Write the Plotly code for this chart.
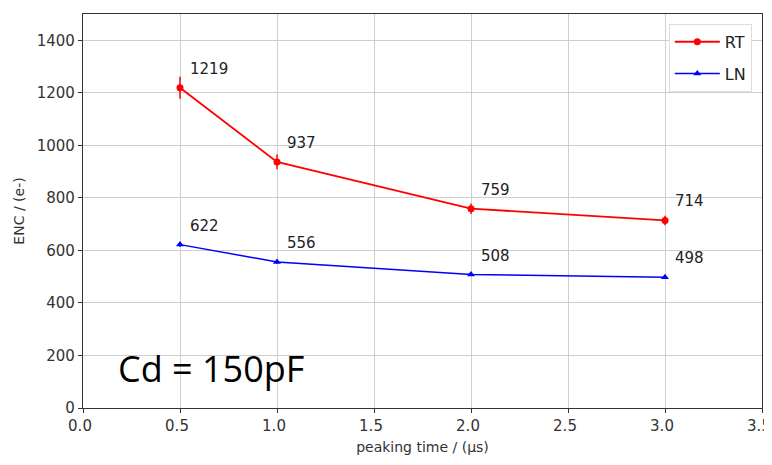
import plotly.graph_objects as go

peaking_time = [0.5, 1.0, 2.0, 3.0]
enc_rt = [1219, 937, 759, 714]
enc_rt_err = [42, 28, 20, 18]
enc_ln = [622, 556, 508, 498]
enc_ln_err = [8, 6, 5, 5]
x_ticks = [0.0, 0.5, 1.0, 1.5, 2.0, 2.5, 3.0, 3.5]
y_ticks = [0, 200, 400, 600, 800, 1000, 1200, 1400]

font_fam = "DejaVu Sans"

fig = go.Figure()
fig.add_trace(go.Scatter(
    x=peaking_time, y=enc_rt, mode="lines+markers", name="RT", legendgroup="rt",
    line=dict(color="red", width=1.8),
    marker=dict(color="red", size=7, symbol="circle"),
    error_y=dict(type="data", array=enc_rt_err, color="red", thickness=1.5, width=0),
))
fig.add_trace(go.Scatter(
    x=peaking_time, y=enc_ln, mode="lines+markers", name="LN", legendgroup="ln",
    line=dict(color="blue", width=1.5),
    marker=dict(color="blue", size=7, symbol="triangle-up"),
    error_y=dict(type="data", array=enc_ln_err, color="blue", thickness=1.5, width=0),
))

for xs, ys in ((peaking_time, enc_rt), (peaking_time, enc_ln)):
    for xv, yv in zip(xs, ys):
        fig.add_annotation(x=xv, y=yv, text=str(yv), showarrow=False,
                           xanchor="left", yanchor="bottom", xshift=8, yshift=8,
                           font=dict(family=font_fam, size=15, color="#222"))

fig.add_annotation(x=0.17, y=150, text="Cd = 150pF", showarrow=False,
                   xanchor="left", yanchor="middle",
                   font=dict(family="Open Sans", size=36, color="black"))

axis_common = dict(showline=True, linecolor="#333", linewidth=1.2, mirror=True,
                   showgrid=True, gridcolor="#cfcfcf", gridwidth=1,
                   ticks="outside", ticklen=4, tickcolor="#333",
                   tickfont=dict(family=font_fam, size=15, color="#333"),
                   zeroline=False, automargin=False)

fig.update_xaxes(range=[0, 3.5], tickvals=x_ticks,
                 ticktext=[f"{v:.1f}" for v in x_ticks],
                 ticklabeloverflow="allow", ticklabelshift=-3,
                 title=dict(text="peaking time / (μs)", standoff=8,
                            font=dict(family=font_fam, size=14, color="#333")),
                 **axis_common)
fig.update_yaxes(range=[0, 1500], tickvals=y_ticks,
                 title=dict(text="ENC / (e-)", standoff=8,
                            font=dict(family=font_fam, size=14, color="#333")),
                 **axis_common)

fig.update_layout(
    width=764, height=457,
    margin=dict(l=75, r=10, t=6, b=57),
    plot_bgcolor="white", paper_bgcolor="white",
    showlegend=True,
    legend=dict(x=0.985, y=0.975, xanchor="right", yanchor="top",
                bgcolor="white", bordercolor="#dddddd", borderwidth=1,
                tracegroupgap=8, itemwidth=45,
                font=dict(family=font_fam, size=16, color="#222")),
)

fig.write_html("out.html")
